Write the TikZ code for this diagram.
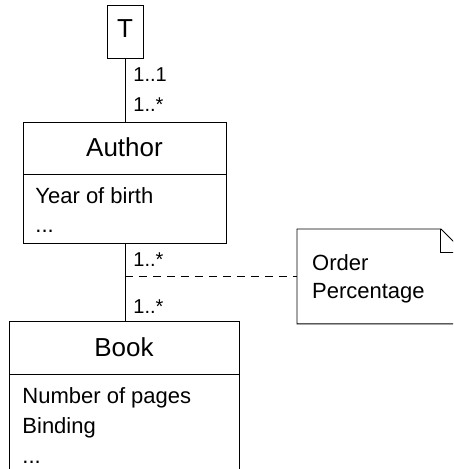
\documentclass[tikz,border=0pt]{standalone}
\usepackage{fontspec}
\setmainfont{Liberation Sans}
\begin{document}
\begin{tikzpicture}[x=1pt,y=-1pt, line width=0.9pt,
  box/.style={draw, rectangle, inner sep=0pt, anchor=north west},
  title/.style={font=\fontsize{26}{30}\selectfont, anchor=base, inner sep=0pt},
  attr/.style={font=\fontsize{22}{26}\selectfont, anchor=base west, inner sep=0pt},
  mult/.style={font=\fontsize{20}{24}\selectfont, anchor=base west, inner sep=0pt},
  noteline/.style={dash pattern=on 8pt off 6pt}]
\useasboundingbox (0,0) rectangle (453,469);
\clip (0,0) rectangle (453,469);
% T
\node[box, minimum width=36pt, minimum height=53pt] (T) at (107,5) {};
\node[title] (Tt) at (125,37.7) {T};
% Author
\node[box, minimum width=203pt, minimum height=120.5pt] (author) at (23,122) {};
\draw (author.west |- {0,174}) -- (author.east |- {0,174});
\node[title] (authort) at (124.5,156) {Author};
\node[attr] (a1) at (35,203.3) {Year of birth};
\node[attr] (a2) at (35,232) {...};
% Book
\node[box, minimum width=230pt, minimum height=160pt] (book) at (9,321) {};
\draw (book.west |- {0,374}) -- (book.east |- {0,374});
\node[title] (bookt) at (124,356) {Book};
\node[attr] (b1) at (22,403.3) {Number of pages};
\node[attr] (b2) at (22,433.3) {Binding};
\node[attr] (b3) at (22,463) {...};
% Note
\node[minimum width=166pt, minimum height=94pt, inner sep=0pt, anchor=north west] (note) at (297,229) {};
\draw (note.north west) -- ([xshift=-23pt]note.north east) -- ([yshift=-23pt]note.north east) -- (note.south east) -- (note.south west) -- cycle;
\draw ([xshift=-23pt]note.north east) -- ([xshift=-23pt,yshift=-23pt]note.north east) -- ([yshift=-23pt]note.north east);
\node[attr] (n1) at (311.7,270) {Order};
\node[attr] (n2) at (311.7,298.3) {Percentage};
% connectors
\draw (T.south) -- (T.south |- author.north);
\draw (author.south) -- (author.south |- book.north);
\coordinate (assoc) at (author.south |- note.west);
\draw[noteline] (assoc) -- (note.west);
% multiplicities
\node[mult] (m1) at (133,81) {1..1};
\node[mult] (m2) at (133,111.7) {1..*};
\node[mult] (m3) at (133,266.7) {1..*};
\node[mult] (m4) at (133,313.3) {1..*};
\end{tikzpicture}
\end{document}
